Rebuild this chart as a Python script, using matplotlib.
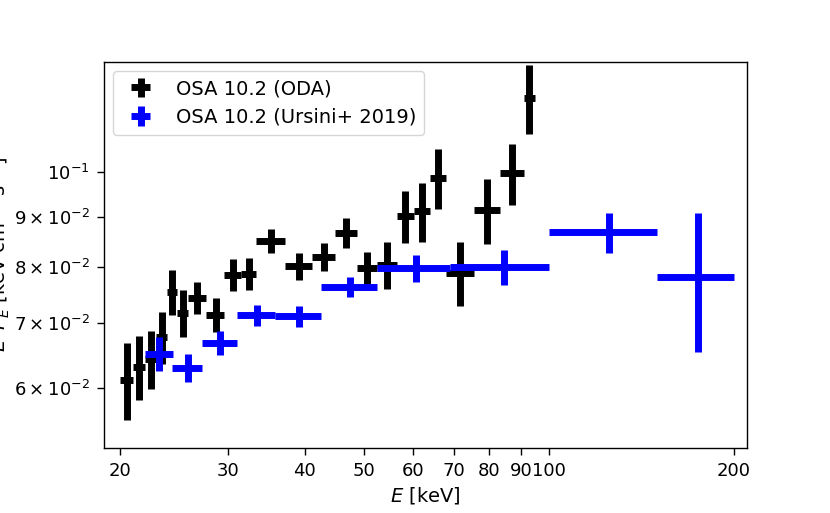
import numpy as np
import matplotlib.pyplot as plt
from matplotlib.ticker import FixedLocator, ScalarFormatter, NullLocator

#################################################################

# OSA 10.2 (ODA) 스펙트럼 : 에너지 중심, 빈 반폭, E^2 F_E, 오차
oda_e = [20.55, 21.5, 22.46, 23.42, 24.37, 25.33, 26.76, 28.66, 30.59, 32.47, 35.32, 39.2,
         43.0, 46.8, 50.6, 54.55, 58.4, 62.15, 66.05, 71.7, 79.35, 87.1, 92.85]
oda_de = [0.48, 0.48, 0.48, 0.48, 0.47, 0.49, 0.94, 0.97, 0.96, 0.93, 1.92, 1.96,
          1.9, 1.9, 1.9, 2.05, 1.8, 1.95, 1.95, 3.7, 3.95, 3.8, 1.95]
oda_f = [0.0612, 0.0631, 0.0643, 0.0677, 0.0754, 0.0717, 0.0743, 0.0714, 0.0785, 0.0787, 0.0850, 0.0801,
         0.0819, 0.0867, 0.0797, 0.0804, 0.0902, 0.0912, 0.0987, 0.0789, 0.0915, 0.0998, 0.1192]
oda_df = [0.0055, 0.0048, 0.0044, 0.0042, 0.0040, 0.0040, 0.0028, 0.0029, 0.0029, 0.0030, 0.0024, 0.0026,
          0.0028, 0.0031, 0.0032, 0.0045, 0.0056, 0.0063, 0.0069, 0.0060, 0.0070, 0.0072, 0.0098]

# OSA 10.2 (Ursini+ 2019)
urs_e = [23.2, 25.8, 29.15, 33.45, 39.2, 47.5, 60.7, 84.45, 125, 175]
urs_de = [1.2, 1.45, 1.9, 2.4, 3.35, 5.0, 8.2, 15.55, 25, 25]
urs_f = [0.0651, 0.0630, 0.0668, 0.0713, 0.0711, 0.0763, 0.0797, 0.0799, 0.0868, 0.0781]
urs_df = [0.0026, 0.0021, 0.0019, 0.0018, 0.0018, 0.0018, 0.0026, 0.0033, 0.0041, 0.0127]

XTICKS = [20, 30, 40, 50, 60, 70, 80, 90, 100, 200]

#################################################################

fig, ax = plt.subplots(figsize=(8.3, 5.13), dpi=100)
fig.subplots_adjust(left=0.125, right=0.9, top=0.88, bottom=0.127)

ax.errorbar(oda_e, oda_f, xerr=oda_de, yerr=oda_df, fmt='none',
            ecolor='black', elinewidth=5, label='OSA 10.2 (ODA)')
ax.errorbar(urs_e, urs_f, xerr=urs_de, yerr=urs_df, fmt='none',
            ecolor='blue', elinewidth=5, label='OSA 10.2 (Ursini+ 2019)')

ax.set_xscale('log')
ax.set_yscale('log')
ax.set_xlim(18.85, 210)
ax.set_ylim(0.0521, 0.130)

# x축은 20, 30 ... 200 그대로 숫자로 표시
ax.xaxis.set_major_locator(FixedLocator(XTICKS))
ax.xaxis.set_major_formatter(ScalarFormatter())
ax.xaxis.set_minor_locator(NullLocator())

ax.tick_params(which='both', length=4.8, width=1.0, pad=5.3, labelsize=13)
for sp in ax.spines.values():
    sp.set_linewidth(1.0)

ax.set_xlabel('$E$ [keV]', fontsize=14)
ax.set_ylabel('$E^2 F_E$ [keV cm$^{-2}$ s$^{-1}$]', fontsize=14)
# y축 라벨은 원본처럼 그림 왼쪽 끝에 걸쳐 있음
ax.yaxis.set_label_coords(-0.143, 0.5)
ax.legend(loc='upper left', fontsize=14)

plt.savefig('out.png', dpi=100)
print('out.png 저장 완료')
